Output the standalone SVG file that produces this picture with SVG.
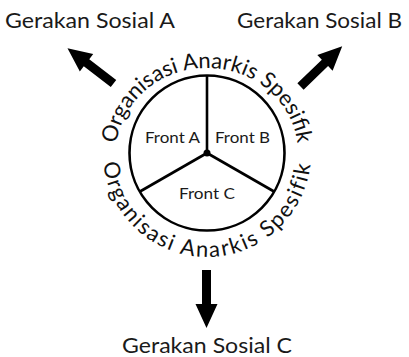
<svg xmlns="http://www.w3.org/2000/svg" width="409" height="357" viewBox="0 0 409 357">
  <style>
    .lbl { font-family: Lato, "Noto Sans", sans-serif; font-size: 21px; fill: #1a1a1a; }
    .front { font-family: Lato, "Noto Sans", sans-serif; font-size: 16px; fill: #1a1a1a; }
    .arc { font-family: Lato, "Noto Sans", sans-serif; font-size: 22px; fill: #111; }
    .ln { stroke: #000; stroke-width: 2.6; fill: none; }
    .arr { fill: #000; }
  </style>
  <defs>
    <path id="topArc" d="M 116 153 A 91 85 0 0 1 298 153"/>
    <path id="botArc" d="M 103 153 A 104 104 0 0 0 311 153"/>
    <polygon id="arrowShape" points="0,-4.5 34,-4.5 34,-11 58,0 34,11 34,4.5 0,4.5"/>
  </defs>

  <g id="org">
    <circle class="ln" cx="207" cy="153" r="77.5"/>
    <text class="arc"><textPath href="#topArc" startOffset="50%" text-anchor="middle">Organisasi Anarkis Spesifik</textPath></text>
    <text class="arc" letter-spacing="1.8"><textPath href="#botArc" startOffset="50%" text-anchor="middle">Organisasi Anarkis Spesifik</textPath></text>
  </g>

  <g id="fronts">
    <line class="ln" x1="207" y1="153" x2="207" y2="76"/>
    <line class="ln" x1="207" y1="153" x2="140" y2="191.5"/>
    <line class="ln" x1="207" y1="153" x2="274" y2="191.5"/>
    <circle cx="207" cy="153" r="3.5" fill="#000"/>
  </g>
  <g id="frontA"><text class="front" x="145" y="143" textLength="55" lengthAdjust="spacingAndGlyphs">Front A</text></g>
  <g id="frontB"><text class="front" x="215" y="143" textLength="55" lengthAdjust="spacingAndGlyphs">Front B</text></g>
  <g id="frontC"><text class="front" x="179" y="199" textLength="56" lengthAdjust="spacingAndGlyphs">Front C</text></g>

  <g id="gerakanA"><text class="lbl" x="5" y="28" textLength="170" lengthAdjust="spacingAndGlyphs">Gerakan Sosial A</text></g>
  <g id="gerakanB"><text class="lbl" x="237" y="28" textLength="165" lengthAdjust="spacingAndGlyphs">Gerakan Sosial B</text></g>
  <g id="gerakanC"><text class="lbl" x="122" y="353" textLength="170" lengthAdjust="spacingAndGlyphs">Gerakan Sosial C</text></g>

  <g id="connectors">
    <use href="#arrowShape" class="arr" transform="translate(113.5,83.5) rotate(-142.5)"/>
    <use href="#arrowShape" class="arr" transform="translate(300.5,86.5) rotate(-44)"/>
    <use href="#arrowShape" class="arr" transform="translate(206.5,270) rotate(90)"/>
  </g>
</svg>
